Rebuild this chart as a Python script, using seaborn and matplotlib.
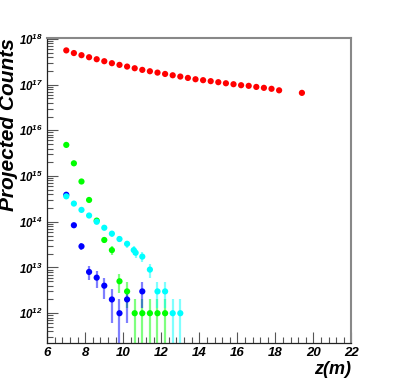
import matplotlib

matplotlib.use("Agg")

import matplotlib.pyplot as plt
import numpy as np
import pandas as pd
import seaborn as sns
from matplotlib.ticker import LogLocator, MultipleLocator, NullFormatter

# positions along the beam line (m)
Z_RED = [7.0, 7.4, 7.8, 8.2, 8.6, 9.0, 9.4, 9.8, 10.2, 10.6, 11.0, 11.4, 11.8,
         12.2, 12.6, 13.0, 13.4, 13.8, 14.2, 14.6, 15.0, 15.4, 15.8, 16.2,
         16.6, 17.0, 17.4, 17.8, 18.2, 19.4]
COUNTS_RED = [5.6e17, 4.9e17, 4.4e17, 3.97e17, 3.59e17, 3.25e17, 2.94e17,
              2.70e17, 2.48e17, 2.28e17, 2.10e17, 1.96e17, 1.83e17, 1.71e17,
              1.60e17, 1.50e17, 1.40e17, 1.31e17, 1.25e17, 1.19e17, 1.13e17,
              1.07e17, 1.02e17, 9.7e16, 9.4e16, 8.9e16, 8.5e16, 8.1e16,
              7.5e16, 6.6e16]

Z_GREEN = [7.0, 7.4, 7.8, 8.2, 8.6, 9.0, 9.4, 9.8, 10.2, 10.6, 11.0, 11.4,
           11.8, 12.2]
COUNTS_GREEN = [4.8e15, 1.9e15, 7.6e14, 3.0e14, 1.06e14, 4.0e13, 2.4e13,
                5e12, 3e12, 1e12, 1e12, 1e12, 1e12, 1e12]
ERR_GREEN = [6.9e13, 4.4e13, 2.8e13, 1.7e13, 1.0e13, 6.3e12, 4.9e12,
             2.2e12, 1.7e12, 1e12, 1e12, 1e12, 1e12, 1e12]

Z_BLUE = [7.0, 7.4, 7.8, 8.2, 8.6, 9.0, 9.4, 9.8, 10.2, 11.0]
COUNTS_BLUE = [3.9e14, 8.4e13, 2.9e13, 8e12, 6e12, 4e12, 2e12, 1e12, 2e12,
               3e12]
ERR_BLUE = [2.0e13, 9.2e12, 5.4e12, 2.8e12, 2.4e12, 2e12, 1.4e12, 1e12,
            1.4e12, 1.7e12]

Z_CYAN = [7.0, 7.4, 7.8, 8.2, 8.6, 9.0, 9.4, 9.8, 10.2, 10.55, 10.65, 11.0,
          11.4, 11.8, 12.2, 12.6, 13.0]
COUNTS_CYAN = [3.6e14, 2.5e14, 1.82e14, 1.37e14, 1.0e14, 7.4e13, 5.5e13,
               4.2e13, 3.3e13, 2.4e13, 2.1e13, 1.73e13, 9e12, 3e12, 3e12,
               1e12, 1e12]
ERR_CYAN = [1.9e13, 1.6e13, 1.35e13, 1.17e13, 1.0e13, 8.6e12, 7.4e12,
            6.5e12, 5.7e12, 4.9e12, 4.6e12, 4.2e12, 3e12, 1.7e12, 1.7e12,
            1e12, 1e12]

sns.set_style("ticks")
plt.rcParams["font.family"] = ["Liberation Sans", "DejaVu Sans"]
plt.rcParams["font.weight"] = "bold"
plt.rcParams["font.style"] = "italic"
plt.rcParams["text.color"] = "black"
plt.rcParams["mathtext.fontset"] = "custom"
plt.rcParams["mathtext.rm"] = "Liberation Sans:bold:italic"
plt.rcParams["mathtext.it"] = "Liberation Sans:bold:italic"
plt.rcParams["mathtext.bf"] = "Liberation Sans:bold:italic"

frames = []
for name, z, c in [
    ("red", Z_RED, COUNTS_RED),
    ("green", Z_GREEN, COUNTS_GREEN),
    ("blue", Z_BLUE, COUNTS_BLUE),
    ("cyan", Z_CYAN, COUNTS_CYAN),
]:
    frames.append(pd.DataFrame({"z": z, "counts": c, "series": name}))
df = pd.concat(frames, ignore_index=True)

palette = {"red": "#ff0000", "green": "#00ff00", "blue": "#0000ff", "cyan": "#00ffff"}

fig = plt.figure(figsize=(3.99, 3.83), dpi=100)
ax = fig.add_axes([0.1185, 0.1037, 0.762, 0.7963])
ax.set_yscale("log")

for name, z, c, e in [
    ("green", Z_GREEN, COUNTS_GREEN, ERR_GREEN),
    ("blue", Z_BLUE, COUNTS_BLUE, ERR_BLUE),
    ("cyan", Z_CYAN, COUNTS_CYAN, ERR_CYAN),
]:
    ax.errorbar(z, c, yerr=e, fmt="none", ecolor=palette[name], alpha=0.5,
                elinewidth=1.6, capsize=0, zorder=2)

sns.scatterplot(data=df, x="z", y="counts", hue="series", palette=palette,
                s=20, linewidth=0, legend=False, ax=ax, zorder=3)

ax.set_xlim(6, 22)
ax.set_ylim(2.2e11, 1.03e18)

ax.xaxis.set_major_locator(MultipleLocator(2))
ax.xaxis.set_minor_locator(MultipleLocator(0.4))
ax.yaxis.set_major_locator(LogLocator(base=10, numticks=20))
ax.yaxis.set_minor_locator(LogLocator(base=10, subs=np.arange(2, 10), numticks=20))
ax.yaxis.set_minor_formatter(NullFormatter())

ax.tick_params(axis="both", which="major", direction="in", length=8,
               width=0.8, color="#555555", labelcolor="black", pad=3)
ax.tick_params(axis="y", which="major", labelsize=8.3)
ax.tick_params(axis="x", which="major", labelsize=9.5)
ax.tick_params(axis="both", which="minor", direction="in", length=4,
               width=0.8, color="#555555")
ax.tick_params(top=False, right=False, which="both")

for side in ["top", "right"]:
    ax.spines[side].set_color("#888888")
    ax.spines[side].set_linewidth(1.5)
for side in ["left", "bottom"]:
    ax.spines[side].set_color("#222222")
    ax.spines[side].set_linewidth(0.9)

ax.xaxis.label.set_visible(False)
ax.yaxis.label.set_visible(False)
fig.text(0.88, 0.034, "z(m)", ha="right", va="center", fontsize=13)
fig.text(0.021, 0.9, "Projected Counts", ha="center", va="top", rotation=90,
         fontsize=15)

fig.savefig("out.png", dpi=100)
